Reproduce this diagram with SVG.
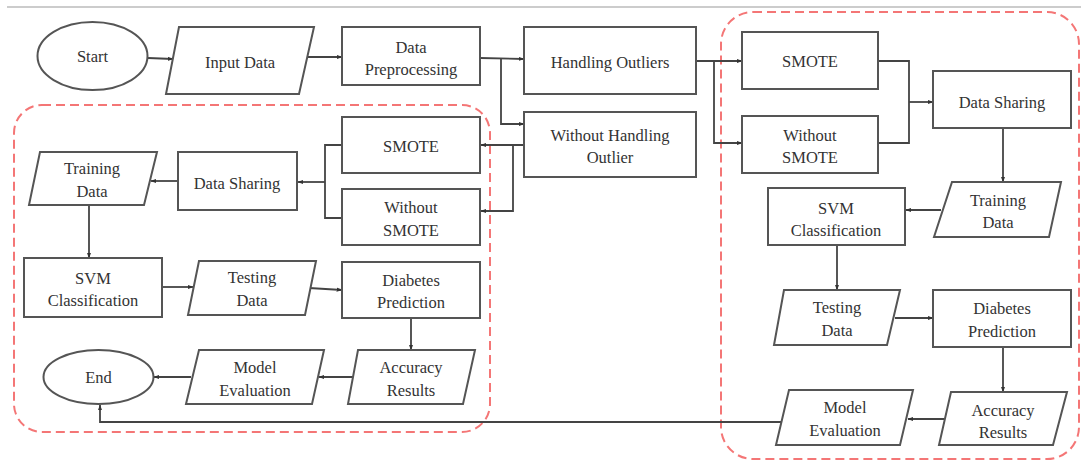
<svg xmlns="http://www.w3.org/2000/svg" width="1081" height="461" viewBox="0 0 1081 461">
<defs>
<marker id="ah" viewBox="0 0 10 10" refX="9" refY="5" markerWidth="6" markerHeight="6" markerUnits="userSpaceOnUse" orient="auto"><path d="M0,1.5 L10,5 L0,8.5 z" fill="#333"/></marker>
<style>
.n{fill:#fff;stroke:#555;stroke-width:2}
.t{font-family:"Liberation Serif","Times New Roman",serif;font-size:16.5px;fill:#333;text-anchor:middle}
.c{fill:none;stroke:#444;stroke-width:1.8}
.a{marker-end:url(#ah)}
.g{fill:none;stroke:#f47676;stroke-width:2;stroke-dasharray:9 5}
</style>
</defs>
<rect width="1081" height="461" fill="#fff"/>
<line x1="7" y1="7" x2="1081" y2="7" stroke="#ccc" stroke-width="2"/>
<g id="groups">
<rect class="g" x="14" y="105" width="476" height="327" rx="28"/>
<rect class="g" x="721" y="12" width="358" height="447" rx="32"/>
</g>
<g id="connectors">
<line class="c a" x1="148" y1="58" x2="173" y2="59"/>
<line class="c a" x1="307" y1="57" x2="342" y2="57"/>
<polyline class="c a" points="480,58 524,59"/>
<polyline class="c a" points="501,58 501,124 524,124"/>
<line class="c a" x1="524" y1="145" x2="481" y2="145"/>
<polyline class="c a" points="513,145 513,211 481,211"/>
<polyline class="c" points="342,145 325,145 325,218 342,218"/>
<line class="c a" x1="325" y1="182" x2="298" y2="182"/>
<line class="c a" x1="178" y1="181" x2="151" y2="181"/>
<line class="c a" x1="89" y1="205" x2="89" y2="258"/>
<line class="c a" x1="162" y1="287" x2="193" y2="287"/>
<line class="c a" x1="309" y1="288" x2="342" y2="290"/>
<line class="c a" x1="411" y1="318" x2="411" y2="350"/>
<line class="c a" x1="354" y1="377" x2="319" y2="377"/>
<line class="c a" x1="191" y1="377" x2="154" y2="377"/>
<polyline class="c a" points="783,422 100,422 100,405"/>
<line class="c a" x1="696" y1="61" x2="742" y2="61"/>
<polyline class="c a" points="714,61 714,143 742,143"/>
<polyline class="c" points="878,61 909,61 909,143 878,143"/>
<line class="c a" x1="909" y1="102" x2="933" y2="102"/>
<line class="c a" x1="1003" y1="128" x2="1003" y2="182"/>
<line class="c a" x1="941" y1="210" x2="906" y2="210"/>
<line class="c a" x1="837" y1="245" x2="837" y2="290"/>
<line class="c a" x1="895" y1="318" x2="933" y2="318"/>
<line class="c a" x1="1003" y1="347" x2="1003" y2="392"/>
<line class="c a" x1="944" y1="419" x2="908" y2="419"/>
</g>
<g id="start"><ellipse class="n" cx="92.5" cy="56" rx="55" ry="34"/><text class="t" x="92.5" y="62">Start</text></g>
<g id="input"><polygon class="n" points="179,27 314,27 299,94 166,94"/><text class="t" x="240" y="68">Input Data</text></g>
<g id="prep"><rect class="n" x="342" y="27" width="138" height="58"/><text class="t" x="411" y="53">Data</text><text class="t" x="411" y="75">Preprocessing</text></g>
<g id="ho"><rect class="n" x="524" y="27" width="172" height="67"/><text class="t" x="610" y="68">Handling Outliers</text></g>
<g id="who"><rect class="n" x="524" y="112" width="172" height="65"/><text class="t" x="610" y="141">Without Handling</text><text class="t" x="610" y="163">Outlier</text></g>
<g id="l-smote"><rect class="n" x="342" y="117" width="138" height="56"/><text class="t" x="411" y="152">SMOTE</text></g>
<g id="l-wsmote"><rect class="n" x="342" y="189" width="138" height="56"/><text class="t" x="411" y="213">Without</text><text class="t" x="411" y="236">SMOTE</text></g>
<g id="l-share"><rect class="n" x="178" y="152" width="119" height="58"/><text class="t" x="237" y="189">Data Sharing</text></g>
<g id="l-train"><polygon class="n" points="40,152 157,152 144,205 29,205"/><text class="t" x="92" y="174">Training</text><text class="t" x="92" y="197">Data</text></g>
<g id="l-svm"><rect class="n" x="24" y="258" width="138" height="59"/><text class="t" x="93" y="284">SVM</text><text class="t" x="93" y="306">Classification</text></g>
<g id="l-test"><polygon class="n" points="199,261 316,261 305,315 188,315"/><text class="t" x="252" y="283">Testing</text><text class="t" x="252" y="306">Data</text></g>
<g id="l-diab"><rect class="n" x="342" y="262" width="138" height="56"/><text class="t" x="411" y="286">Diabetes</text><text class="t" x="411" y="308">Prediction</text></g>
<g id="l-acc"><polygon class="n" points="358,350 475,350 463,404 348,404"/><text class="t" x="411" y="373">Accuracy</text><text class="t" x="411" y="396">Results</text></g>
<g id="l-model"><polygon class="n" points="199,350 324,350 312,404 186,404"/><text class="t" x="255" y="373">Model</text><text class="t" x="255" y="396">Evaluation</text></g>
<g id="end"><ellipse class="n" cx="98.5" cy="377" rx="55" ry="27"/><text class="t" x="98.5" y="383">End</text></g>
<g id="r-smote"><rect class="n" x="742" y="32" width="136" height="57"/><text class="t" x="810" y="67">SMOTE</text></g>
<g id="r-wsmote"><rect class="n" x="742" y="116" width="136" height="57"/><text class="t" x="810" y="141">Without</text><text class="t" x="810" y="163">SMOTE</text></g>
<g id="r-share"><rect class="n" x="933" y="71" width="138" height="57"/><text class="t" x="1002" y="108">Data Sharing</text></g>
<g id="r-train"><polygon class="n" points="952,182 1061,182 1049,237 934,237"/><text class="t" x="998" y="206">Training</text><text class="t" x="998" y="228">Data</text></g>
<g id="r-svm"><rect class="n" x="768" y="188" width="137" height="57"/><text class="t" x="836" y="214">SVM</text><text class="t" x="836" y="236">Classification</text></g>
<g id="r-test"><polygon class="n" points="784,290 900,290 887,345 774,345"/><text class="t" x="837" y="313">Testing</text><text class="t" x="837" y="336">Data</text></g>
<g id="r-diab"><rect class="n" x="933" y="290" width="138" height="57"/><text class="t" x="1002" y="314">Diabetes</text><text class="t" x="1002" y="337">Prediction</text></g>
<g id="r-acc"><polygon class="n" points="951,392 1067,392 1053,445 939,445"/><text class="t" x="1003" y="416">Accuracy</text><text class="t" x="1003" y="438">Results</text></g>
<g id="r-model"><polygon class="n" points="789,390 913,390 900,445 776,445"/><text class="t" x="845" y="413">Model</text><text class="t" x="845" y="436">Evaluation</text></g>
</svg>
